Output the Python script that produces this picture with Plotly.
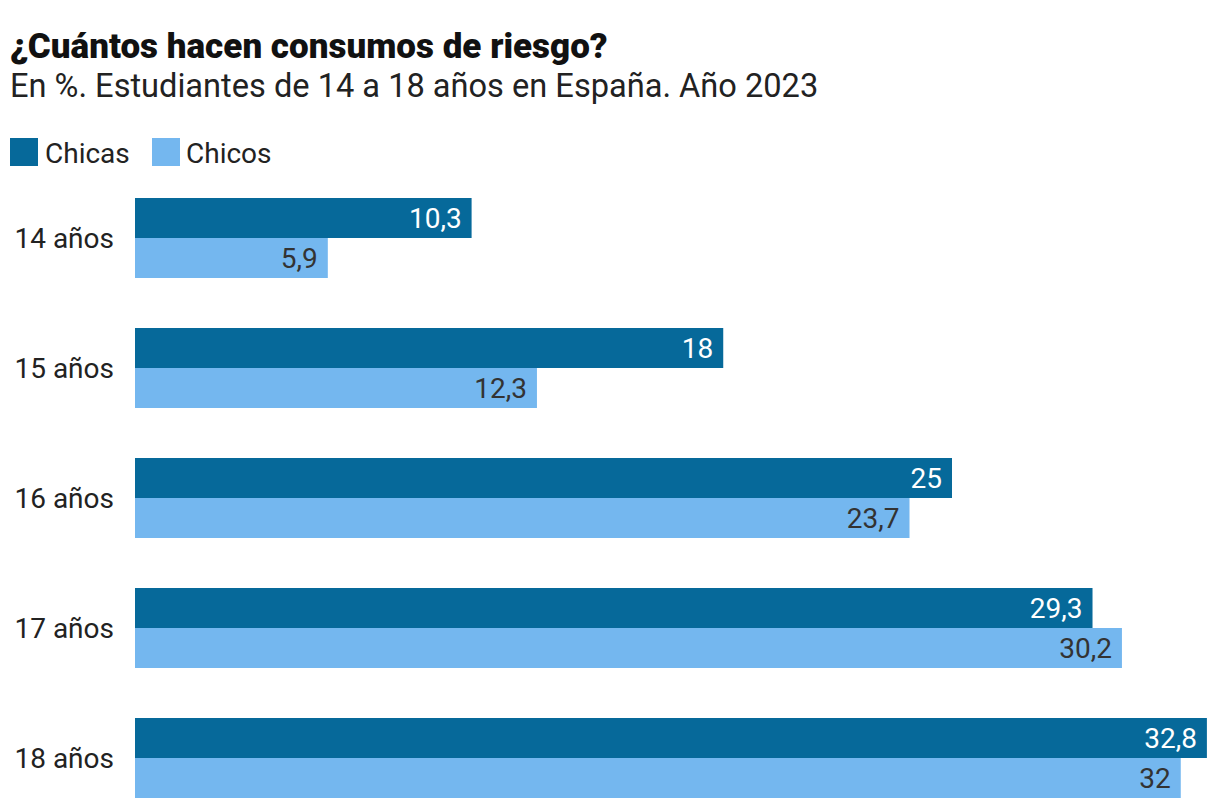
import plotly.graph_objects as go

categories = ["14 años", "15 años", "16 años", "17 años", "18 años"]
chicas = [10.3, 18, 25, 29.3, 32.8]
chicos = [5.9, 12.3, 23.7, 30.2, 32]
series_names = ["Chicas", "Chicos"]

DARK = "#06699a"
LIGHT = "#74b7ef"
FONT = "Roboto"

OFF = 8  # default page body margin
W, H = 1220 - OFF, 808 - OFF
ML, MR, MT, MB = 135 - OFF, 0, 173 - OFF, 0
PH = H - MT - MB
PW = W - ML - MR


def fmt(v):
    s = ("%g" % v).replace(".", ",")
    return s + "\u00a0"


def py(px):
    return (H - MB - (px - OFF)) / PH


def pxx(px):
    return (px - OFF - ML) / PW


fig = go.Figure()
fig.add_trace(go.Bar(
    y=categories, x=chicas, name=series_names[0], orientation="h",
    marker=dict(color=DARK, line=dict(width=0)),
    text=[fmt(v) for v in chicas], textposition="inside",
    insidetextanchor="end", textangle=0,
    textfont=dict(family=FONT, size=28, color="white"),
    hoverinfo="skip",
))
fig.add_trace(go.Bar(
    y=categories, x=chicos, name=series_names[1], orientation="h",
    marker=dict(color=LIGHT, line=dict(width=0)),
    text=[fmt(v) for v in chicos], textposition="inside",
    insidetextanchor="end", textangle=0,
    textfont=dict(family=FONT, size=28, color="#333333"),
    hoverinfo="skip",
))

shapes = []
annotations = []
legend_items = [(series_names[0], DARK, 10, 45), (series_names[1], LIGHT, 152, 186)]
for name, col, x0, tx in legend_items:
    shapes.append(dict(type="rect", xref="paper", yref="paper",
                       x0=pxx(x0), x1=pxx(x0 + 28), y0=py(166), y1=py(138),
                       fillcolor=col, line=dict(width=0)))
    annotations.append(dict(text=name, xref="paper", yref="paper",
                            x=pxx(tx - 2), y=py(153), xanchor="left", yanchor="middle",
                            showarrow=False, font=dict(family=FONT, size=28, color="#222222")))

annotations.append(dict(text="¿Cuántos hacen consumos de riesgo?", xref="paper", yref="paper",
                        x=pxx(8), y=py(46), xanchor="left", yanchor="middle", showarrow=False,
                        font=dict(family=FONT, size=35, color="#111111", weight=900)))
annotations.append(dict(text="En %. Estudiantes de 14 a 18 años en España. Año 2023", xref="paper", yref="paper",
                        x=pxx(8), y=py(86), xanchor="left", yanchor="middle", showarrow=False,
                        font=dict(family=FONT, size=32.6, color="#222222")))

fig.update_layout(
    width=W, height=H,
    margin=dict(l=ML, r=MR, t=MT, b=MB, pad=0),
    paper_bgcolor="white", plot_bgcolor="white",
    barmode="group", bargap=50 / 130, bargroupgap=0,
    showlegend=False,
    shapes=shapes, annotations=annotations,
    xaxis=dict(range=[0, PW / 32.68], visible=False, fixedrange=True),
    yaxis=dict(type="category", range=[-0.5 + PH / 130, -0.5], showgrid=False,
               zeroline=False, showline=False, ticks="", ticklabelstandoff=20,
               tickfont=dict(family=FONT, size=28, color="#222222"), fixedrange=True),
)

fig.write_html("out.html", config={"displayModeBar": False})
